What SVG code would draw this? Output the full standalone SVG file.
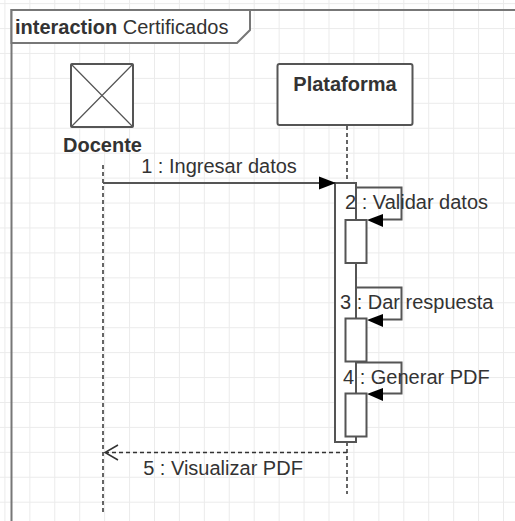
<svg xmlns="http://www.w3.org/2000/svg" width="515" height="521" viewBox="0 0 515 521">
<style>
.t{font-family:"Liberation Sans",Arial,sans-serif;font-size:20px;fill:#333}
.b{font-weight:bold}
.ln{stroke:#555;stroke-width:2;fill:none}
.box{stroke:#555;stroke-width:2;fill:#fff}
.life{stroke:#333;stroke-width:1.5;stroke-dasharray:4 3;fill:none}
.ah{fill:#000;stroke:none}
</style>
<defs>
<pattern id="grid" patternUnits="userSpaceOnUse" x="4.4" y="3.1" width="24.93" height="24.93">
<path d="M0 0H24.93M0 0V24.93" stroke="#ebebeb" stroke-width="2" fill="none"/>
</pattern>
</defs>
<rect width="515" height="521" fill="#fff"/>
<rect width="515" height="521" fill="url(#grid)"/>
<g id="frame">
<path d="M11.5 521V10H515" stroke="#777" stroke-width="2" fill="none"/>
<path d="M11.5 10H250V30L237 43H11.5Z" fill="#fff" stroke="#777" stroke-width="2"/>
<text class="t" x="15" y="33.5"><tspan class="b">interaction</tspan> Certificados</text>
</g>
<g id="docente">
<rect class="box" x="71" y="64" width="62" height="63" rx="1"/>
<path d="M71 64L133 127M133 64L71 127" stroke="#555" stroke-width="1.2"/>
<text class="t b" x="102.5" y="151.5" text-anchor="middle">Docente</text>
</g>
<g id="plataforma">
<rect class="box" x="277.5" y="64" width="135" height="61" rx="2"/>
<text class="t b" x="345" y="90.5" text-anchor="middle">Plataforma</text>
</g>
<g id="connectors">
<line class="life" x1="103" y1="165" x2="103" y2="512"/>
<line class="life" x1="347" y1="126" x2="347" y2="183"/>
<line class="life" x1="347" y1="442" x2="347" y2="494"/>
<rect class="box" x="335" y="183" width="21" height="259"/>
<line class="ln" x1="103" y1="183" x2="322" y2="183"/>
<polygon class="ah" points="336,183 319,176.5 319,189.5"/>
<text class="t" x="219" y="172.5" text-anchor="middle">1 : Ingresar datos</text>
<path class="ln" d="M356 187.5H401.5V219.5H380"/>
<polygon class="ah" points="367,220 383,214 383,227"/>
<rect class="box" x="345.5" y="220" width="21" height="43"/>
<text class="t" x="345" y="208.5">2 : Validar datos</text>
<path class="ln" d="M356 287.5H401.5V319.5H380"/>
<polygon class="ah" points="367,320 383,314 383,327"/>
<rect class="box" x="345.5" y="318.5" width="21" height="43"/>
<text class="t" x="340" y="308.5">3 : Dar respuesta</text>
<path class="ln" d="M356 362.5H401.5V393.5H380"/>
<polygon class="ah" points="367,394 383,388 383,401"/>
<rect class="box" x="345.5" y="393.5" width="21" height="43"/>
<text class="t" x="343" y="383.5">4 : Generar PDF</text>
<line class="life" x1="347" y1="452.5" x2="106" y2="452.5"/>
<path d="M118 445L105 452.5L118 460" stroke="#333" stroke-width="1.5" fill="none"/>
<text class="t" x="223" y="474.5" text-anchor="middle">5 : Visualizar PDF</text>
</g>
</svg>
